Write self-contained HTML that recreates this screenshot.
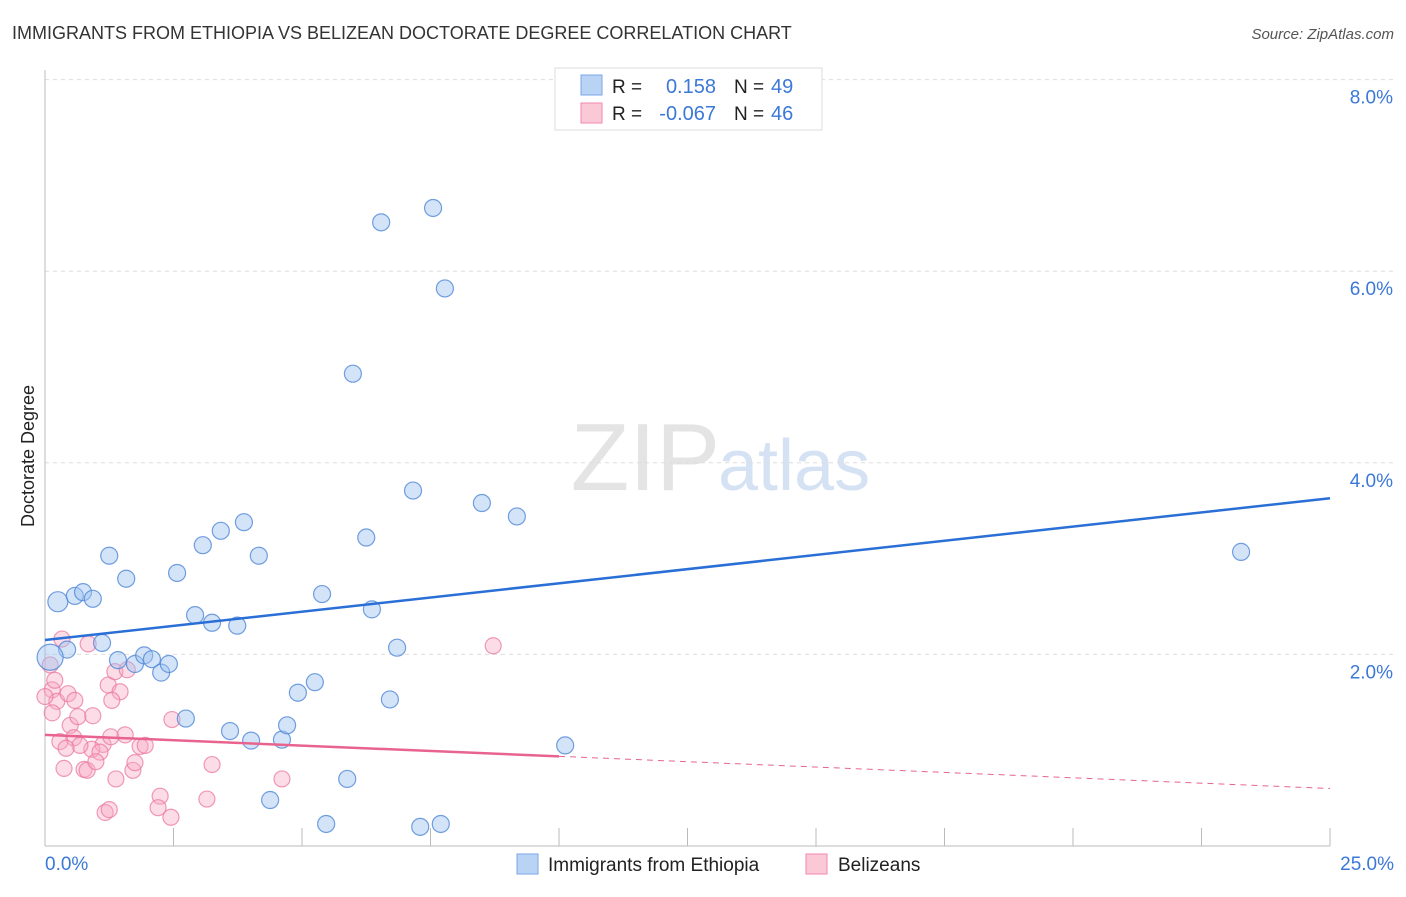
<!DOCTYPE html>
<html><head><meta charset="utf-8"><style>
body{margin:0;background:#fff;font-family:"Liberation Sans",sans-serif;}
svg text{font-family:"Liberation Sans",sans-serif;}
</style></head><body>
<svg width="1406" height="892" xmlns="http://www.w3.org/2000/svg">
<text x="12" y="39" font-size="18" fill="#333">IMMIGRANTS FROM ETHIOPIA VS BELIZEAN DOCTORATE DEGREE CORRELATION CHART</text>
<text x="1394" y="39" font-size="15" fill="#555" text-anchor="end" font-style="italic">Source: ZipAtlas.com</text>
<text x="720" y="490" font-size="96" fill="#e4e4e4" text-anchor="end" font-family="Liberation Serif">ZIP</text>
<text x="718" y="490" font-size="72" fill="#d5e2f4">atlas</text>
<text transform="translate(34,456) rotate(-90)" font-size="18" fill="#222" text-anchor="middle">Doctorate Degree</text>
<g id="grid"></g><g id="pts"></g><g id="lines"></g>
<g>
<rect x="555" y="68" width="267" height="62" fill="#fff" stroke="#ddd"/>
<rect x="581" y="75" width="21" height="20" fill="#b9d3f5" stroke="#7aa6e6"/>
<rect x="581" y="103" width="21" height="20" fill="#fbc8d8" stroke="#f08aab"/>
<text x="612" y="93" font-size="19" fill="#222">R =</text>
<text x="716" y="93" font-size="20" fill="#3b78d8" text-anchor="end">0.158</text>
<text x="734" y="93" font-size="19" fill="#222">N =</text>
<text x="771" y="93" font-size="20" fill="#3b78d8">49</text>
<text x="612" y="120" font-size="19" fill="#222">R =</text>
<text x="716" y="120" font-size="20" fill="#3b78d8" text-anchor="end">-0.067</text>
<text x="734" y="120" font-size="19" fill="#222">N =</text>
<text x="771" y="120" font-size="20" fill="#3b78d8">46</text>
</g>
<g>
<rect x="517" y="854" width="21" height="20" fill="#b9d3f5" stroke="#7aa6e6"/>
<text x="548" y="871" font-size="19" fill="#222">Immigrants from Ethiopia</text>
<rect x="806" y="854" width="21" height="20" fill="#fbc8d8" stroke="#f08aab"/>
<text x="838" y="871" font-size="19" fill="#222">Belizeans</text>
</g>
</svg>
<script>
const blueX=[0.25,0.58,0.74,0.93,1.25,1.58,0.43,1.11,0.1,1.42,1.75,1.93,2.08,2.26,2.41,2.57,2.74,2.92,3.07,3.25,3.42,3.60,3.74,3.87,4.01,4.16,4.38,4.61,4.71,4.92,5.25,5.39,5.47,5.88,5.99,6.25,6.36,6.54,6.71,6.85,7.16,7.30,7.55,7.70,7.78,8.50,9.18,10.12,23.27];
const blueY=[2.55,2.61,2.65,2.58,3.03,2.79,2.05,2.12,1.97,1.94,1.90,1.99,1.95,1.81,1.90,2.85,1.33,2.41,3.14,2.33,3.29,1.20,2.30,3.38,1.10,3.03,0.48,1.11,1.26,1.60,1.71,2.63,0.23,0.70,4.93,3.22,2.47,6.51,1.53,2.07,3.71,0.20,6.66,0.23,5.82,3.58,3.44,1.05,3.07];
const pinkX=[0.33,0.84,0.10,0.14,0.23,0.45,0.14,0.49,0.56,0.29,0.37,0.64,0.93,1.23,1.36,1.46,1.60,1.13,0.91,1.07,0.76,0.82,1.28,1.56,0.99,1.38,1.71,1.75,1.85,1.95,2.47,3.25,3.15,2.24,2.20,2.45,1.17,1.25,4.61,8.72,0.0,1.30,0.58,0.19,0.68,0.41];
const pinkY=[2.16,2.11,1.89,1.63,1.51,1.59,1.39,1.26,1.13,1.09,0.81,1.35,1.36,1.68,1.82,1.61,1.84,1.06,1.01,0.98,0.80,0.79,1.14,1.16,0.88,0.70,0.79,0.87,1.04,1.05,1.32,0.85,0.49,0.52,0.40,0.30,0.35,0.38,0.70,2.09,1.56,1.52,1.52,1.73,1.05,1.02];
const blueTrend=[2.15,3.63];
const pinkTrend=[1.16,0.60];
const pinkSolidEnd=10;
const yTicks=[2,4,6,8];
const yTickLabels=["2.0%","4.0%","6.0%","8.0%"];
const xTicks=[0,2.5,5,7.5,10,12.5,15,17.5,20,22.5,25];

const NS="http://www.w3.org/2000/svg";
const sx=v=>45+v*51.4, sy=v=>846-v*95.8;
function mk(t,a,p){const e=document.createElementNS(NS,t);for(const k in a)e.setAttribute(k,a[k]);p.appendChild(e);return e;}
const grid=document.getElementById('grid'),pts=document.getElementById('pts'),lines=document.getElementById('lines');
yTicks.forEach((v,i)=>{
 const g=mk('line',{x1:45,x2:1394,y1:sy(v),y2:sy(v),stroke:'#ddd','stroke-dasharray':'4,4'},grid);
 
 
 const t=mk('text',{x:1393,y:sy(v)+24,'font-size':19,fill:'#3b78d8','text-anchor':'end'},grid);
 t.textContent=yTickLabels[i];
 
 
});
const ax=mk('line',{x1:45,x2:45,y1:70,y2:846,stroke:'#bbb'},grid);


const bx=mk('line',{x1:45,x2:1330,y1:846,y2:846,stroke:'#bbb'},grid);


xTicks.forEach(v=>{const l=mk('line',{x1:sx(v),x2:sx(v),y1:828,y2:846,stroke:'#bbb'},grid);
 
 });
const x0=mk('text',{x:45,y:870,'font-size':19,fill:'#3b78d8'},grid);x0.textContent='0.0%';


const x1=mk('text',{x:1394,y:870,'font-size':19,fill:'#3b78d8','text-anchor':'end'},grid);x1.textContent='25.0%';


pinkX.forEach((v,i)=>{const c=mk('circle',{cx:sx(v),cy:sy(pinkY[i]),r:8,fill:'rgba(248,170,195,0.4)',stroke:'rgba(235,120,160,0.75)','stroke-width':1.2},pts);
 
 });
blueX.forEach((v,i)=>{const c=mk('circle',{cx:sx(v),cy:sy(blueY[i]),r:i==8?13:i==0?10:8.5,fill:'rgba(160,195,240,0.45)',stroke:'rgba(80,135,215,0.8)','stroke-width':1.2},pts);
 
 });
const bl=mk('line',{x1:sx(0),y1:sy(blueTrend[0]),x2:sx(25),y2:sy(blueTrend[1]),stroke:'#2a6fd6','stroke-width':2.5},lines);


const pm=pinkTrend[0]+(pinkTrend[1]-pinkTrend[0])*pinkSolidEnd/25;
const pl=mk('line',{x1:sx(0),y1:sy(pinkTrend[0]),x2:sx(pinkSolidEnd),y2:sy(pm),stroke:'#e8648f','stroke-width':2.5},lines);


const pd=mk('line',{x1:sx(pinkSolidEnd),y1:sy(pm),x2:sx(25),y2:sy(pinkTrend[1]),stroke:'#e8648f','stroke-width':1,'stroke-dasharray':'6,5'},lines);


</script>
</body></html>
